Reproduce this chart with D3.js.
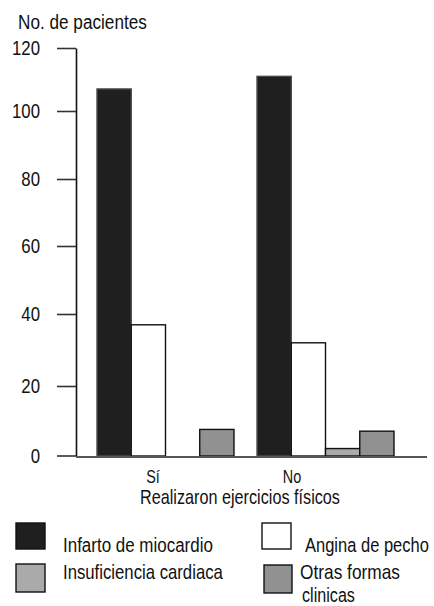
<!DOCTYPE html>
<html>
<head>
<meta charset="utf-8">
<script src="https://cdn.jsdelivr.net/npm/d3@7/dist/d3.min.js"></script>
<style>
  html, body { margin: 0; padding: 0; background: #fff; }
  svg text { font-family: "Liberation Sans", Arial, "Noto Sans", sans-serif; fill: #111; }
</style>
</head>
<body>
<svg id="chart" width="434" height="606"></svg>
<script>
// ---- data ----
const groups = ["Sí", "No"];
const series = ["Infarto de miocardio", "Angina de pecho", "Insuficiencia cardiaca", "Otras formas clinicas"];
const infarto = [107, 111];
const angina = [37, 32];
const insuficiencia = [0, 2];
const otras = [7.5, 7];
const yTicks = [0, 20, 40, 60, 80, 100, 120];
const yTitle = "No. de pacientes";
const xTitle = "Realizaron ejercicios físicos";

// ---- styles ----
const fills = ["#1f1f1f", "#ffffff", "#aaaaaa", "#919191"];
const strokes = ["#4a4a4a", "#111", "#111", "#111"];
const values = [infarto, angina, insuficiencia, otras];

const svg = d3.select("#chart");
const fontSize = 21;
const narrow = 0.8; // condensed look

// condensed text: horizontal scale around the anchor point (x, y)
function addText(parent, x, y, str, opts) {
  opts = opts || {};
  const size = opts.size || fontSize;
  const t = parent.append("text")
    .attr("x", 0).attr("y", 0)
    .attr("font-size", size)
    .attr("text-anchor", opts.anchor || "start")
    .text(str);
  let sx = narrow;
  if (opts.width) sx = opts.width / t.node().getComputedTextLength();
  t.attr("transform", `translate(${x},${y}) scale(${sx},1)`);
  return t;
}

// the scanned axis is slightly uneven: piecewise-linear scale through the tick positions
const y = d3.scaleLinear().domain(yTicks).range([455.5, 386, 314, 246, 179, 111, 48]);
const x0 = d3.scaleBand().domain(groups).range([97, 394]).paddingInner(0.144).paddingOuter(0);
const x1 = d3.scaleBand().domain(series).range([0, x0.bandwidth()]).padding(0);

// y axis
const yAxis = d3.axisLeft(y).tickValues(yTicks).tickSize(19).tickSizeOuter(0).tickPadding(17);
const gy = svg.append("g").attr("transform", "translate(76,0)").call(yAxis);
gy.select(".domain").attr("stroke", "#111").attr("stroke-width", 1.6);
gy.selectAll(".tick line").attr("stroke", "#333").attr("stroke-width", 1.6);
gy.selectAll(".tick text")
  .attr("font-size", fontSize).attr("fill", "#111")
  .style("font-family", '"Liberation Sans", Arial, sans-serif')
  .each(function() {
    const t = d3.select(this);
    const x = +t.attr("x");
    t.attr("x", 0).attr("transform", `translate(${x},0) scale(${narrow},1)`);
  });

// bars
const gBars = svg.append("g");
groups.forEach((g, gi) => {
  series.forEach((s, si) => {
    const v = values[si][gi];
    if (v <= 0) return;
    gBars.append("rect")
      .attr("x", x0(g) + x1(s))
      .attr("y", y(v))
      .attr("width", x1.bandwidth())
      .attr("height", y(0) - y(v) + 0.5)
      .attr("fill", fills[si])
      .attr("stroke", strokes[si])
      .attr("stroke-width", 1.4);
  });
});

// baseline (x axis)
svg.append("line")
  .attr("x1", 76).attr("x2", 427)
  .attr("y1", y(0) + 1.5).attr("y2", y(0) + 1.5)
  .attr("stroke", "#555").attr("stroke-width", 2);

// group labels
const groupLabelOffset = {"Sí": 56, "No": 35};
groups.forEach(g => {
  addText(svg, x0(g) + groupLabelOffset[g], 483, g, {anchor: "middle", size: 18});
});

addText(svg, 240, 504, xTitle, {anchor: "middle", width: 200});
addText(svg, 18, 29, yTitle, {width: 129});

// legend
const legendItems = [
  {si: 0, bx: 16, by: 523, bw: 29, bh: 26, tx: 63, lines: ["Infarto de miocardio"], w: [150], ty: 552},
  {si: 1, bx: 262, by: 523, bw: 29, bh: 26, tx: 305, lines: ["Angina de pecho"], w: [124], ty: 552},
  {si: 2, bx: 16, by: 564, bw: 29, bh: 28, tx: 63, lines: ["Insuficiencia cardiaca"], w: [160], ty: 579},
  {si: 3, bx: 264, by: 565, bw: 28, bh: 28, tx: 300, lines: ["Otras formas", "clinicas"], w: [100, 53], ty: 579}
];
const lg = svg.append("g");
legendItems.forEach(it => {
  lg.append("rect").attr("x", it.bx).attr("y", it.by).attr("width", it.bw).attr("height", it.bh)
    .attr("fill", fills[it.si]).attr("stroke", "#111").attr("stroke-width", 1.4);
  it.lines.forEach((ln, i) => {
    addText(lg, it.tx + (i > 0 ? 2 : 0), it.ty + i * 23, ln, {width: it.w[i]});
  });
});
</script>
</body>
</html>
